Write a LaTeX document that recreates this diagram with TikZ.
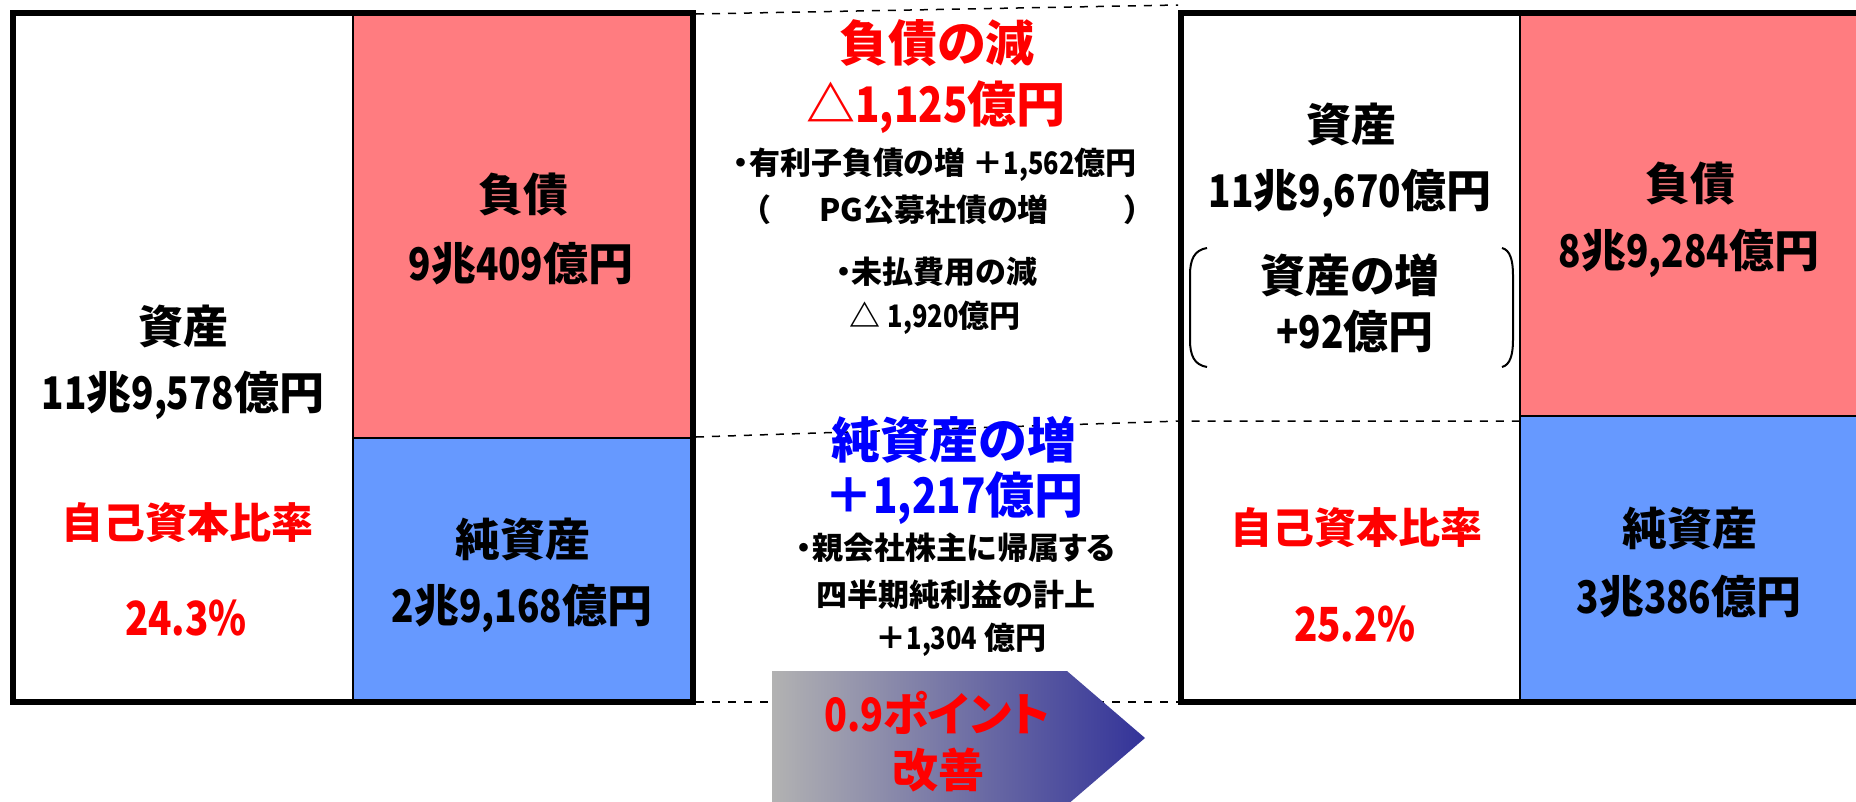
\documentclass[tikz,border=0pt]{standalone}
\usepackage{fontspec}
\setmainfont{Noto Sans CJK JP}[RawFeature=+palt]
\newfontfamily\nd{Noto Sans CJK JP}[FakeStretch=0.82]
\definecolor{lred}{RGB}{255,124,128}
\definecolor{lblue}{RGB}{102,153,255}
\definecolor{txtred}{RGB}{255,0,0}
\definecolor{txtblue}{RGB}{0,0,255}
\definecolor{arrL}{RGB}{178,178,178}
\definecolor{arrR}{RGB}{51,51,153}
\tikzset{
  lbl/.style={inner sep=0pt, align=center, font=\fontsize{45}{52}\selectfont\bfseries},
  rat/.style={inner sep=0pt, text=txtred, font=\fontsize{42}{50}\selectfont\bfseries},
  pct/.style={inner sep=0pt, text=txtred, font=\nd\fontsize{47}{52}\selectfont\bfseries},
  head/.style={inner sep=0pt, font=\fontsize{49}{56}\selectfont\bfseries},
  note/.style={inner sep=0pt, font=\fontsize{31}{36}\selectfont\bfseries},
  arrtxt/.style={inner sep=0pt, text=txtred, font=\fontsize{46}{52}\selectfont\bfseries},
  frame/.style={line width=6pt},
  thinline/.style={line width=2pt},
  guide/.style={line width=1.5pt, dash pattern=on 8pt off 8pt},
  brk/.style={line width=2pt},
}
\begin{document}
\begin{tikzpicture}[x=1pt,y=-1pt]
\useasboundingbox (0,0) rectangle (1856,801);
\fill[white] (0,0) rectangle (1856,801);
\clip (0,0) rectangle (1856,801);

% guide dashed lines
\draw[guide] (696,14) -- (1178,5);
\draw[guide] (696,437) -- (1181,421) -- (1520,421);
\draw[guide] (696,702) -- (1181,702);

% left balance sheet
\fill[lred] (353,13) rectangle (693,438);
\fill[lblue] (353,438) rectangle (693,702);
\draw[thinline] (353,13) -- (353,702);
\draw[thinline] (353,438) -- (693,438);
\draw[frame] (13,13) rectangle (693,702);

% right balance sheet
\fill[lred] (1520,13) rectangle (1862,416);
\fill[lblue] (1520,416) rectangle (1862,702);
\draw[thinline] (1520,13) -- (1520,702);
\draw[thinline] (1520,416) -- (1862,416);
\draw[frame] (1181,13) rectangle (1862,702);

% brackets in right box
\draw[brk] (1207,248) .. controls (1194,250) and (1190,260) .. (1190,275) -- (1190,340) .. controls (1190,355) and (1194,365) .. (1207,367);
\draw[brk] (1502,248) .. controls (1510,250) and (1513,260) .. (1513,275) -- (1513,340) .. controls (1513,355) and (1510,365) .. (1502,367);

% arrow
\shade[left color=arrL, right color=arrR] (772,671) -- (1067,671) -- (1145,738) -- (1067,805) -- (772,805) -- cycle;

% left texts
\node[lbl] (LA) at (183,326) {資産};
\node[lbl] (LAv) at (183,395) {{\nd 11}兆{\nd 9,578}億円};
\node[rat] (LR) at (187,523) {自己資本比率};
\node[pct] (LRv) at (186,618) {24.3\%};
\node[lbl] (LL) at (523,195) {負債};
\node[lbl] (LLv) at (521,264) {{\nd 9}兆{\nd 409}億円};
\node[lbl] (LN) at (523,539) {純資産};
\node[lbl] (LNv) at (522,608) {{\nd 2}兆{\nd 9,168}億円};

% middle texts
\node[head,text=txtred] (H1) at (937,43) {負債の減};
\node[head,text=txtred] (H1v) at (936,107) {△{\nd 1,125}億円};
\node[note] (N1) at (935,165) {・有利子負債の増 ＋{\nd 1,562}億円};
\node[note] (P1) at (762,210) {（};
\node[note] (N2) at (934,210) {PG公募社債の増};
\node[note] (P2) at (1133,210) {）};
\node[note] (N3) at (937,272) {・未払費用の減};
\node[note] (N3v) at (935,318) {△ {\nd 1,920}億円};
\node[head,text=txtblue] (H2) at (954,440) {純資産の増};
\node[head,text=txtblue] (H2v) at (954,498) {＋{\nd 1,217}億円};
\node[note] (N4) at (956,548) {・親会社株主に帰属する};
\node[note] (N4b) at (956,595) {四半期純利益の計上};
\node[note] (N4v) at (961,640) {＋{\nd 1,304} 億円};
\node[arrtxt] (AR1) at (937,713) {{\nd 0.9}ポイント};
\node[arrtxt] (AR2) at (938,770) {改善};

% right texts
\node[lbl] (RA) at (1351,124) {資産};
\node[lbl] (RAv) at (1350,193) {{\nd 11}兆{\nd 9,670}億円};
\node[lbl] (RD) at (1350,275) {資産の増};
\node[lbl] (RDv) at (1355,331) {{\nd +92}億円};
\node[rat] (RR) at (1356,528) {自己資本比率};
\node[pct] (RRv) at (1355,624) {25.2\%};
\node[lbl] (RL) at (1690,184) {負債};
\node[lbl] (RLv) at (1689,253) {{\nd 8}兆{\nd 9,284}億円};
\node[lbl] (RN) at (1690,528) {純資産};
\node[lbl] (RNv) at (1689,597) {{\nd 3}兆{\nd 386}億円};
\end{tikzpicture}
\end{document}
